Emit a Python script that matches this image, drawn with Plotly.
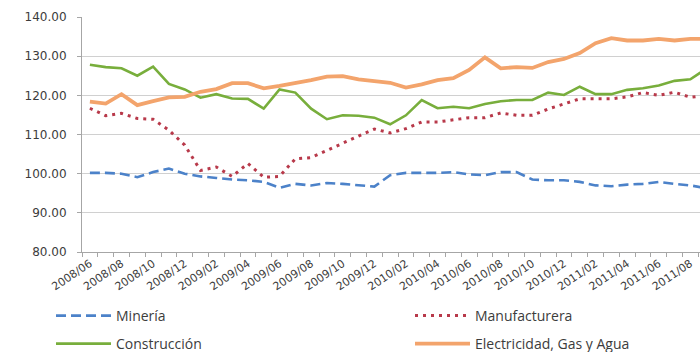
import plotly.graph_objects as go

# Monthly index values, June 2008 - September 2011
months = [
    "2008/06", "2008/07", "2008/08", "2008/09", "2008/10", "2008/11", "2008/12",
    "2009/01", "2009/02", "2009/03", "2009/04", "2009/05", "2009/06", "2009/07",
    "2009/08", "2009/09", "2009/10", "2009/11", "2009/12", "2010/01", "2010/02",
    "2010/03", "2010/04", "2010/05", "2010/06", "2010/07", "2010/08", "2010/09",
    "2010/10", "2010/11", "2010/12", "2011/01", "2011/02", "2011/03", "2011/04",
    "2011/05", "2011/06", "2011/07", "2011/08", "2011/09",
]

mineria = [
    100.2, 100.2, 100.0, 99.1, 100.4, 101.3, 100.0, 99.3, 98.9, 98.5,
    98.3, 97.9, 96.4, 97.4, 97.0, 97.6, 97.4, 97.0, 96.7, 99.6,
    100.2, 100.2, 100.2, 100.4, 99.8, 99.6, 100.4, 100.4, 98.5, 98.3,
    98.3, 97.9, 97.0, 96.8, 97.2, 97.4, 97.9, 97.4, 97.0, 96.3,
]
manufacturera = [
    116.7, 114.8, 115.4, 114.1, 113.9, 111.1, 107.3, 100.8, 101.7, 99.3,
    102.6, 99.1, 99.3, 103.8, 104.1, 106.0, 107.7, 109.6, 111.4, 110.4,
    111.5, 113.2, 113.2, 113.8, 114.3, 114.3, 115.5, 114.9, 114.9, 116.5,
    117.8, 119.1, 119.1, 119.1, 119.6, 120.7, 120.0, 120.8, 119.5, 120.0,
]
construccion = [
    127.8, 127.2, 126.9, 125.0, 127.3, 122.9, 121.5, 119.4, 120.3, 119.2,
    119.1, 116.6, 121.5, 120.7, 116.6, 113.9, 114.9, 114.8, 114.3, 112.6,
    114.9, 118.8, 116.7, 117.1, 116.7, 117.8, 118.5, 118.8, 118.8, 120.7,
    120.1, 122.2, 120.3, 120.3, 121.4, 121.8, 122.5, 123.7, 124.1, 126.8,
]
electricidad = [
    118.4, 117.9, 120.3, 117.5, 118.5, 119.5, 119.6, 120.9, 121.6, 123.1,
    123.1, 121.8, 122.4, 123.1, 123.9, 124.8, 124.9, 124.1, 123.7, 123.2,
    122.0, 122.8, 123.9, 124.4, 126.5, 129.7, 126.9, 127.2, 127.0, 128.5,
    129.3, 130.8, 133.3, 134.6, 134.0, 134.0, 134.4, 134.0, 134.4, 134.4,
]

# every other month gets a label
tick_text = [m if i % 2 == 0 else "" for i, m in enumerate(months)]

TEXT = "#3c3c3c"
series = [
    ("Minería", mineria, dict(color="#4C82C9", width=2.6, dash="10px,5px"), "legend"),
    ("Manufacturera", manufacturera, dict(color="#B8394A", width=3, dash="3px,5px"), "legend2"),
    ("Construcción", construccion, dict(color="#78AE3C", width=2.6), "legend3"),
    ("Electricidad, Gas y Agua", electricidad, dict(color="#F3A46C", width=3.8), "legend4"),
]

fig = go.Figure()
for name, values, line, leg in series:
    fig.add_trace(go.Scatter(x=months, y=values, mode="lines", name=name,
                             line=line, legend=leg))

leg_common = dict(xref="container", yref="container", xanchor="left", yanchor="middle",
                  itemwidth=55, bgcolor="rgba(0,0,0,0)",
                  font=dict(family="Open Sans", size=14, color=TEXT))
fig.update_layout(
    width=700, height=352,
    margin=dict(l=82, r=0, t=17, b=100, autoexpand=False),
    paper_bgcolor="white", plot_bgcolor="white",
    showlegend=True,
    legend=dict(x=51 / 700, y=1 - 316 / 352, **leg_common),
    legend2=dict(x=410 / 700, y=1 - 316 / 352, **leg_common),
    legend3=dict(x=51 / 700, y=1 - 344 / 352, **leg_common),
    legend4=dict(x=410 / 700, y=1 - 344 / 352, **leg_common),
    xaxis=dict(
        type="category", categoryorder="array", categoryarray=months,
        range=[-0.5, 38.61],
        tickmode="array", tickvals=months, ticktext=tick_text,
        tickson="boundaries", ticks="outside", ticklen=4, tickcolor="#A6A6A6",
        tickangle=-34,
        showline=True, linecolor="#A6A6A6", linewidth=1,
        showgrid=False, zeroline=False,
        tickfont=dict(family="DejaVu Sans", size=11, color=TEXT),
    ),
    yaxis=dict(
        range=[80, 140], dtick=10, tickformat=".2f",
        ticks="outside", ticklen=4, tickcolor="#A6A6A6",
        showline=True, linecolor="#A6A6A6", linewidth=1,
        showgrid=True, gridcolor="#D0D0D0", gridwidth=1,
        zeroline=False, ticklabelstandoff=8,
        tickfont=dict(family="DejaVu Sans", size=12, color=TEXT),
    ),
)

fig.write_html("out.html")
